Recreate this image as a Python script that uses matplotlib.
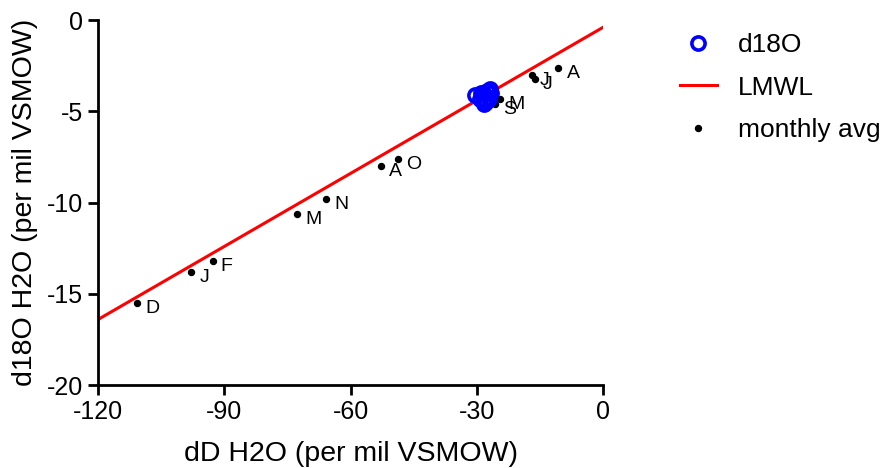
import numpy as np
import matplotlib
matplotlib.use('Agg')
import matplotlib.pyplot as plt

plt.rcParams['font.family'] = ['Liberation Sans', 'DejaVu Sans']
plt.rcParams['axes.unicode_minus'] = False

# d18O sample cluster (dD, d18O)
d18o_dD = [-30.4, -29.2, -28.6, -28.1, -27.6, -27.2, -26.8, -28.3, -27.7, -26.5, -29.0, -27.0]
d18o_val = [-4.1, -4.3, -4.0, -4.4, -3.9, -4.2, -3.8, -4.6, -4.5, -4.0, -4.0, -4.3]

# monthly averages
months = ['J', 'F', 'M', 'A', 'M', 'J', 'J', 'A', 'S', 'O', 'N', 'D']
month_dD = [-97.9, -92.8, -72.8, -10.6, -24.5, -16.2, -16.9, -52.8, -25.7, -48.8, -65.8, -110.8]
month_d18o = [-13.8, -13.2, -10.6, -2.6, -4.3, -3.2, -3.0, -8.0, -4.6, -7.6, -9.8, -15.5]

# LMWL: dD = 7.5 * d18O + 3
lmwl_slope = 7.5
lmwl_icpt = 3.0
lmwl_x = [-120, 0]

fig = plt.figure(figsize=(8.84, 4.68), dpi=100)
ax = fig.add_axes([0.111, 0.177, 0.571, 0.78])

h1, = ax.plot(d18o_dD, d18o_val, 'o', ls='none', mfc='none', mec='#0000ff',
              ms=9.5, mew=2.6, zorder=4, label='d18O')
lx = np.array(lmwl_x, dtype=float)
h2, = ax.plot(lx, (lx - lmwl_icpt) / lmwl_slope, color='#ff0000', lw=2.2,
              zorder=2, label='LMWL')
h3, = ax.plot(month_dD, month_d18o, 'o', ls='none', color='black', ms=4.3,
              zorder=3, label='monthly avg')
for m, x, y in zip(months, month_dD, month_d18o):
    ax.annotate(m, (x, y), xytext=(6, -4), textcoords='offset points',
                fontsize=14, va='center', ha='left')

ax.set_xlim(-120, 0)
ax.set_ylim(-20, 0)
ax.set_xticks([-120, -90, -60, -30, 0])
ax.set_yticks([-20, -15, -10, -5, 0])
for s in ['top', 'right']:
    ax.spines[s].set_visible(False)
for s in ['left', 'bottom']:
    ax.spines[s].set_linewidth(2)
ax.tick_params(width=2, length=7, labelsize=18, pad=4)
ax.set_xlabel('dD H2O (per mil VSMOW)', fontsize=20.5, labelpad=12)
ax.set_ylabel('d18O H2O (per mil VSMOW)', fontsize=20.5, labelpad=6)

fig.legend(handles=[h1, h2, h3], loc='upper left', bbox_to_anchor=(0.742, 0.98),
           frameon=False, fontsize=19, handlelength=1.4, labelspacing=0.7,
           handletextpad=0.8)

fig.savefig('out.png', dpi=100)
